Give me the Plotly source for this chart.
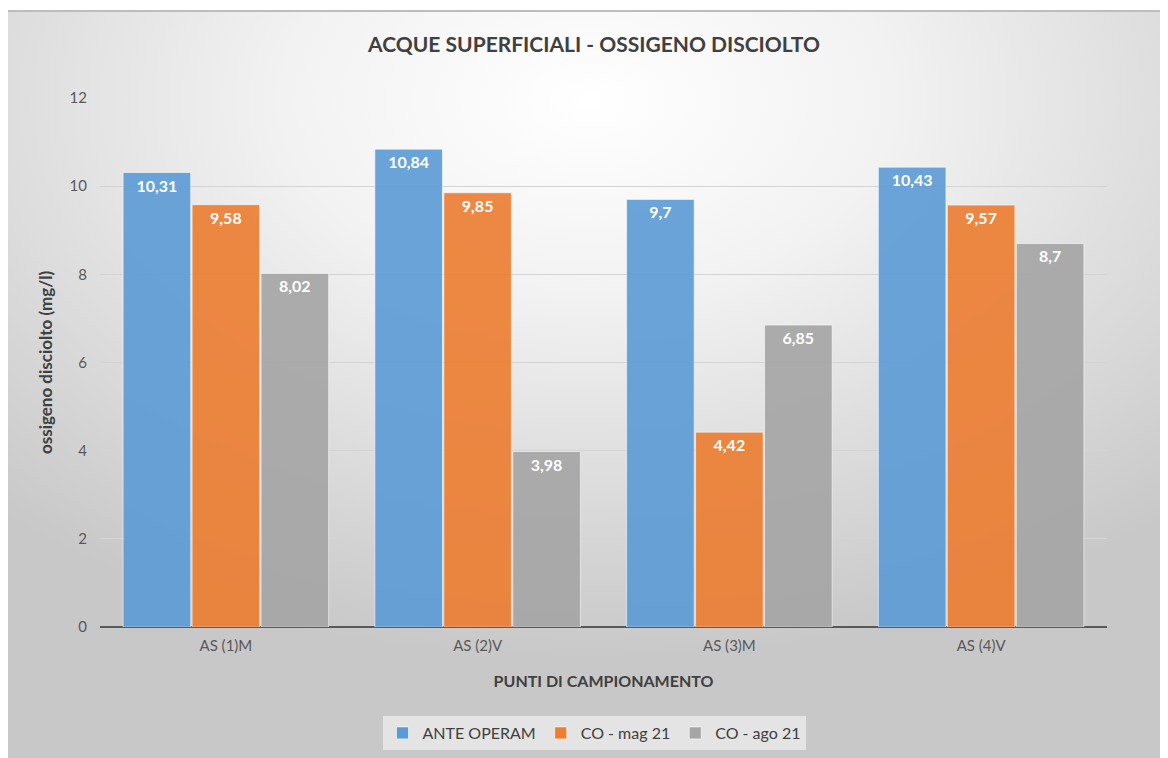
import plotly.graph_objects as go
import urllib.parse

categories = ["AS (1)M", "AS (2)V", "AS (3)M", "AS (4)V"]
ante_operam = [10.31, 10.84, 9.7, 10.43]
co_mag21 = [9.58, 9.85, 4.42, 9.57]
co_ago21 = [8.02, 3.98, 6.85, 8.7]
series_names = ["ANTE OPERAM", "CO - mag 21", "CO - ago 21"]
series_colors = ["#5B9BD5", "#ED7D31", "#A5A5A5"]
y_ticks = [0, 2, 4, 6, 8, 10, 12]

# page has an 8px body margin; figure coords = page coords - 8
OFF = 8
W, H = 1160, 750
ML, MT = 100 - OFF, 98 - OFF
PW, PH = 1007, 529
MR, MB = W - ML - PW, H - MT - PH

def px_x(p):
    return (p - OFF - ML) / PW

def px_y(p):
    return (MT + PH - (p - OFF)) / PH

def fmt(v):
    return ("%g" % v).replace(".", ",")

fig = go.Figure()
for name, vals, col in zip(series_names, [ante_operam, co_mag21, co_ago21], series_colors):
    fig.add_trace(go.Bar(
        x=categories, y=vals, name=name,
        marker=dict(color=col, opacity=0.9, line=dict(color="rgba(255,255,255,0.6)", width=1)),
        text=[fmt(v) for v in vals],
        textposition="inside", insidetextanchor="end",
        textfont=dict(family="Lato", size=16, color="white", weight="bold"),
        textangle=0,
    ))

svg = ('<svg xmlns="http://www.w3.org/2000/svg" width="1161" height="747" preserveAspectRatio="none">'
       '<defs><radialGradient id="g" cx="0.5" cy="0.12" r="0.75" fx="0.5" fy="0.12">'
       '<stop offset="0" stop-color="#ffffff"/><stop offset="0.35" stop-color="#f2f2f2"/>'
       '<stop offset="1" stop-color="#c8c8c8"/></radialGradient></defs>'
       '<rect width="1161" height="747" fill="url(#g)"/></svg>')
src = "data:image/svg+xml;charset=utf-8," + urllib.parse.quote(svg)

fig.update_layout(
    width=W, height=H,
    margin=dict(l=ML, r=MR, t=MT, b=MB, autoexpand=False),
    paper_bgcolor="white", plot_bgcolor="rgba(0,0,0,0)",
    barmode="group", bargap=0.178, bargroupgap=0.02,
    font=dict(family="Lato", color="#595959"),
    title=dict(text="<b>ACQUE SUPERFICIALI - OSSIGENO DISCIOLTO</b>",
               x=px_x(594), xref="paper", xanchor="center",
               y=1 - (45 - OFF) / H, yanchor="middle",
               font=dict(family="Lato", size=21, color="#404040")),
    xaxis=dict(title=dict(text="<b>PUNTI DI CAMPIONAMENTO</b>",
                          font=dict(size=16, color="#404040"), standoff=22),
               tickfont=dict(size=15, color="#595959"),
               showgrid=False, showline=False, ticks="", ticklabelstandoff=8),
    yaxis=dict(title=dict(text="<b>ossigeno disciolto (mg/l)</b>",
                          font=dict(size=17, color="#404040"), standoff=12),
               range=[0, 12], tickvals=y_ticks,
               tickfont=dict(size=15, color="#595959"),
               gridcolor="#d4d4d4", gridwidth=1,
               zeroline=True, zerolinecolor="#595959", zerolinewidth=2,
               ticks="", showline=False, ticklabelstandoff=12),
    legend=dict(orientation="h", x=px_x(594), xanchor="center",
                y=px_y(733), yanchor="middle",
                bgcolor="#e4e4e4", font=dict(size=16, color="#404040"),
                itemwidth=30, traceorder="normal"),
    images=[dict(source=src, xref="paper", yref="paper",
                 x=px_x(7), y=px_y(11), sizex=1161 / PW, sizey=747 / PH,
                 xanchor="left", yanchor="top", sizing="stretch", layer="below")],
    shapes=[
        dict(type="line", xref="paper", yref="paper", x0=px_x(7), x1=px_x(1168),
             y0=px_y(11), y1=px_y(11), line=dict(color="#bdbdbd", width=2), layer="below"),
    ],
)

fig.write_html("out.html")
